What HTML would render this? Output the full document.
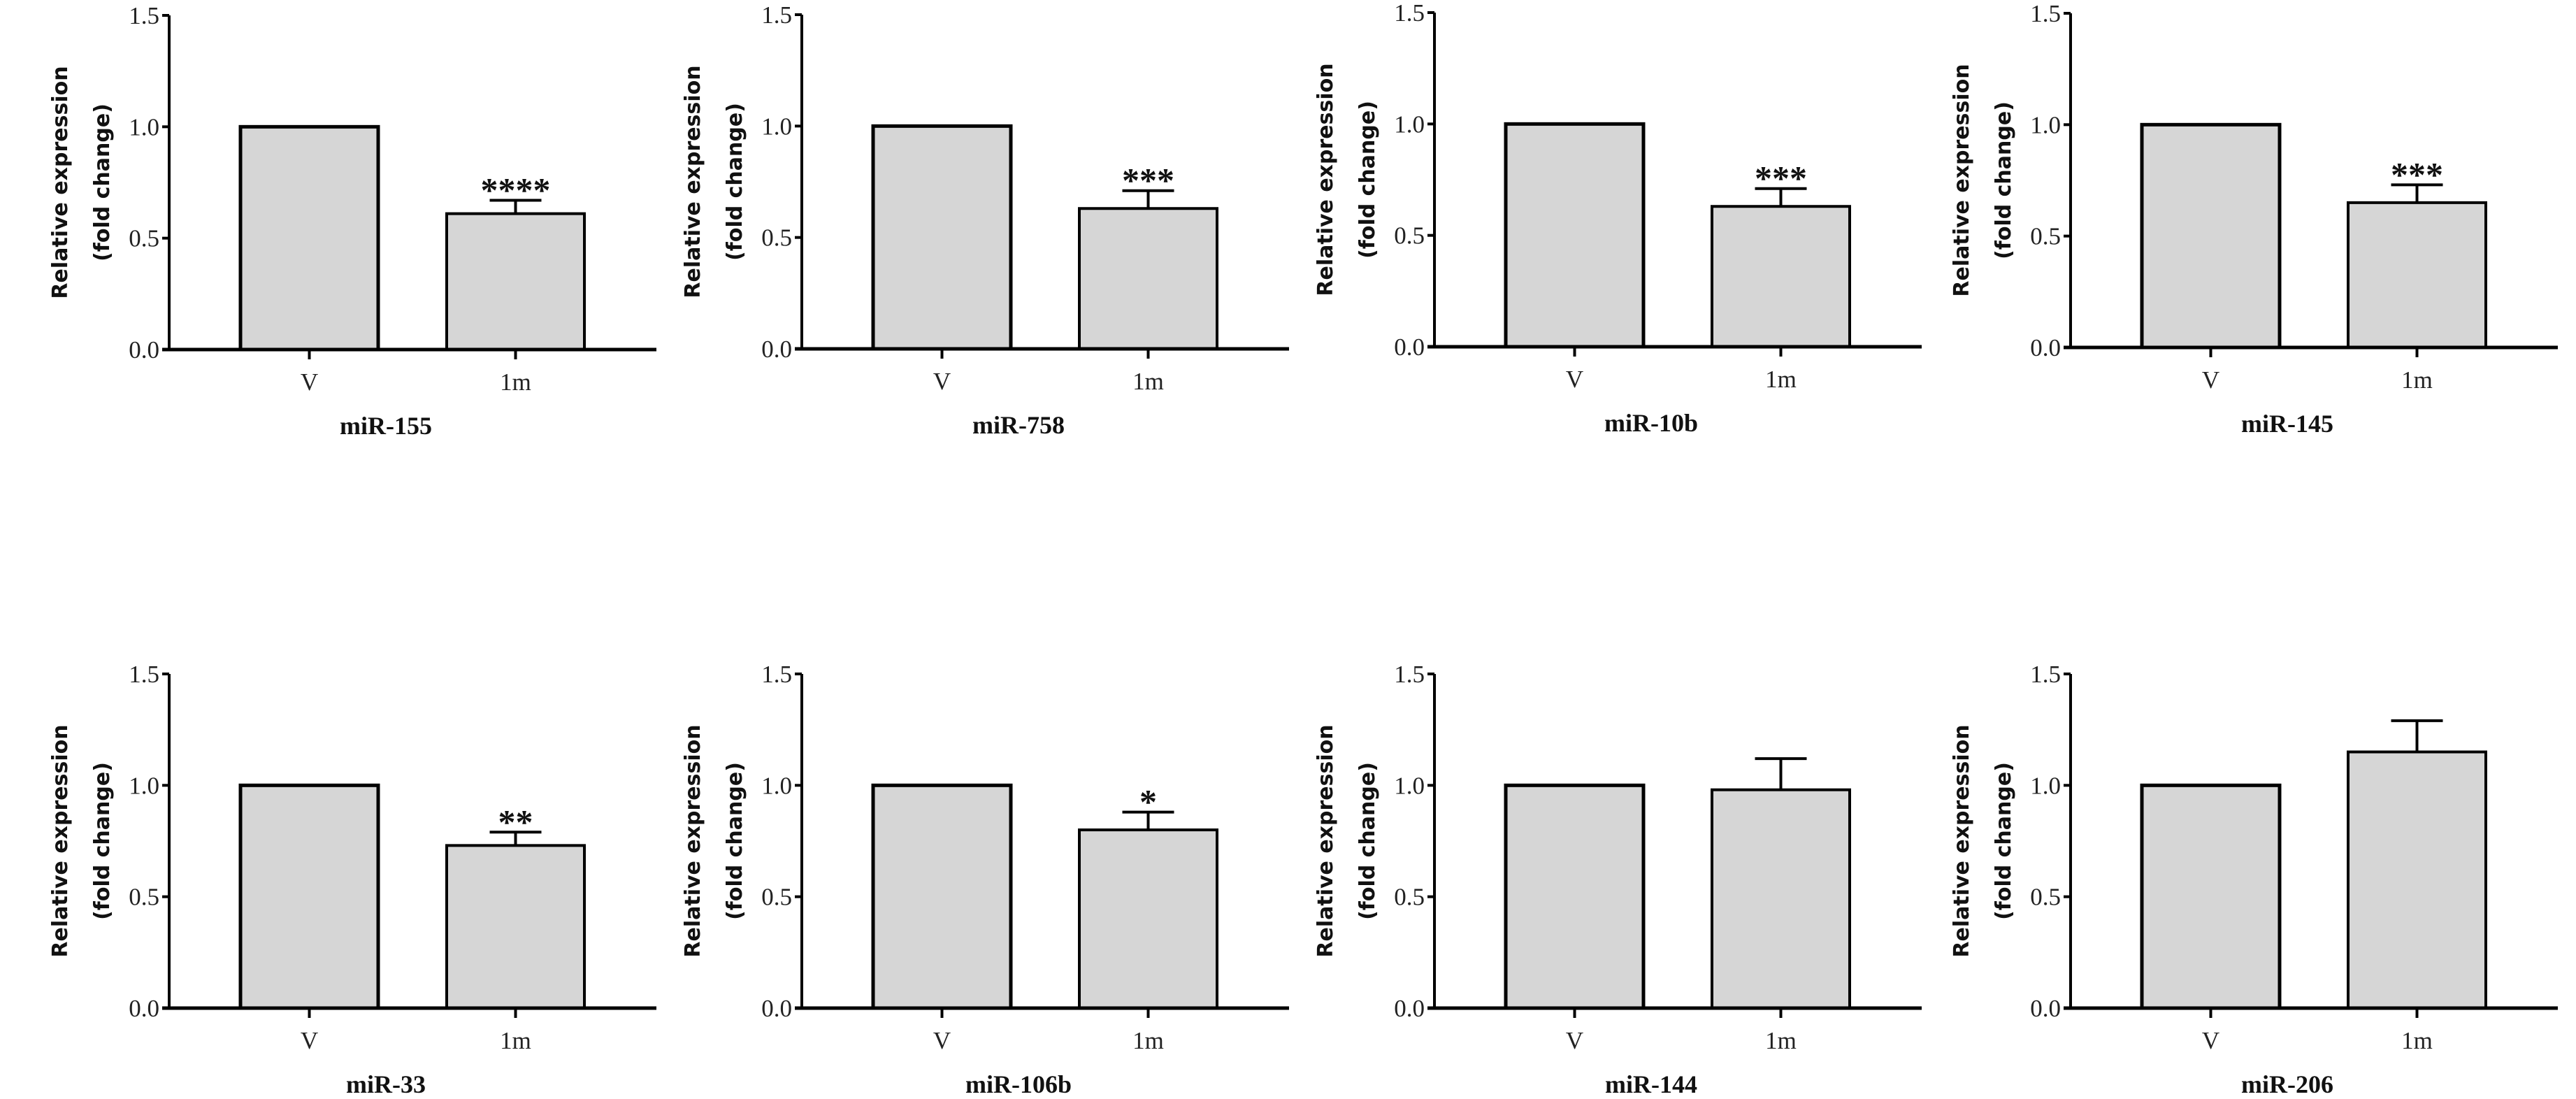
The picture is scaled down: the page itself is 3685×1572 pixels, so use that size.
<!DOCTYPE html>
<html><head><meta charset="utf-8">
<style>
html,body{margin:0;padding:0;background:#fff;}
svg{display:block;}
.tick{font-family:"Liberation Serif",serif;font-size:35px;fill:#222;}
.ylab{font-family:"DejaVu Sans","Liberation Sans",sans-serif;font-weight:bold;font-size:30px;fill:#111;}
.title{font-family:"Liberation Serif",serif;font-weight:bold;font-size:36px;fill:#111;}
.star{font-family:"Liberation Serif",serif;font-size:50px;font-weight:bold;fill:#111;}
</style></head>
<body>
<svg id="chart" width="3685" height="1572" viewBox="0 0 3685 1572" xmlns="http://www.w3.org/2000/svg"></svg>
<script>
const titles = ["miR-155","miR-758","miR-10b","miR-145","miR-33","miR-106b","miR-144","miR-206"];
const categories = ["V","1m"];
const vValues = [1,1,1,1,1,1,1,1];
const mValues = [0.61,0.63,0.63,0.65,0.73,0.80,0.98,1.15];
const mErrors = [0.06,0.08,0.08,0.08,0.06,0.08,0.14,0.14];
const stars = ["****","***","***","***","**","*","",""];
const yTicks = [0,0.5,1.0,1.5];
const yTickLabels = ["0.0","0.5","1.0","1.5"];

const NS="http://www.w3.org/2000/svg";
const svg=document.getElementById('chart');
const originsX=[242,1147,2052,2962];
const zeroY=[500,499,496,497];
const zeroY2=1442;
const H=478, YMAX=1.5, AXW=697;
function mk(tag,attrs,parent){const e=document.createElementNS(NS,tag);for(const k in attrs)e.setAttribute(k,attrs[k]);(parent||svg).appendChild(e);return e;}

titles.forEach((t,i)=>{
  const ox=originsX[i%4];
  const oy=i<4?zeroY[i]:zeroY2;
  const y=v=>oy - v/YMAX*H;
  const g=mk('g',{});
  
  
  const bx=[ox+102, ox+397], bw=197;
  const vals=[vValues[i], mValues[i]];
  vals.forEach((v,j)=>{
    const r=mk('rect',{x:bx[j],y:y(v),width:bw,height:oy-y(v),fill:'#d6d6d6',stroke:'#000','stroke-width':j===0?5:4},g);
    
    
  });
  const cx=bx[1]+bw/2;
  const eTop=y(mValues[i]+mErrors[i]);
  const el=mk('path',{d:`M${cx},${y(mValues[i])} V${eTop} M${cx-37},${eTop} H${cx+37}`,stroke:'#000','stroke-width':4,fill:'none'},g);
  
  
  if(stars[i]){
    const s=mk('text',{x:cx,y:eTop+2,'text-anchor':'middle',class:'star'},g);
    s.textContent=stars[i];
    
    
  }
  const ya=mk('path',{d:`M${ox},${y(YMAX)} V${oy}`,stroke:'#000','stroke-width':4,fill:'none'},g);
  
  
  const xa=mk('path',{d:`M${ox-10},${oy} H${ox+AXW}`,stroke:'#000','stroke-width':5,fill:'none'},g);
  
  
  yTicks.forEach((tv,k)=>{
    mk('path',{d:`M${ox-10},${y(tv)} H${ox}`,stroke:'#000','stroke-width':4},g);
    const tl=mk('text',{x:ox-14,y:y(tv)+12,'text-anchor':'end',class:'tick'},g);
    tl.textContent=yTickLabels[k];
    
    
  });
  categories.forEach((c,j)=>{
    const tx=bx[j]+bw/2;
    mk('path',{d:`M${tx},${oy} V${oy+14}`,stroke:'#000','stroke-width':4},g);
    const tl=mk('text',{x:tx,y:oy+58,'text-anchor':'middle',class:'tick'},g);
    tl.textContent=c;
    
    
  });
  const ti=mk('text',{x:ox+310,y:oy+121,'text-anchor':'middle',class:'title'},g);
  ti.textContent=t;
  
  
  const my=(y(YMAX)+oy)/2;
  const yl=mk('text',{transform:`translate(${ox-146},${my}) rotate(-90)`,'text-anchor':'middle',class:'ylab'},g);
  
  
  const t1=mk('tspan',{x:0,y:0},yl); t1.textContent='Relative expression';
  const t2=mk('tspan',{x:0,y:60},yl); t2.textContent='(fold change)';
});
</script>
</body></html>
